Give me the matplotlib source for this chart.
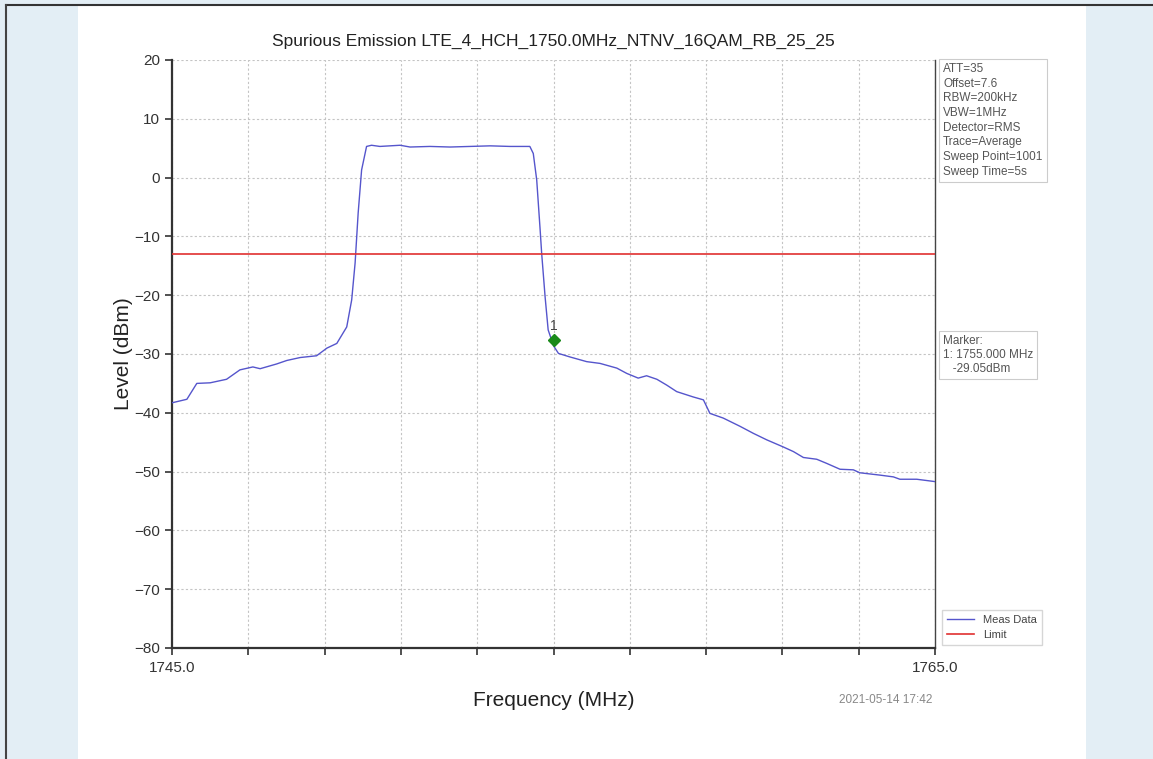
import matplotlib
matplotlib.use("Agg")
import matplotlib.pyplot as plt
from matplotlib.patches import Rectangle

plt.rcParams['font.family'] = ['Liberation Sans', 'DejaVu Sans']

# ---- data ----
freq_mhz = [1745.00, 1745.39, 1745.65, 1746.00, 1746.43, 1746.78, 1747.12, 1747.31,
            1747.74, 1748.01, 1748.36, 1748.79, 1749.06, 1749.32, 1749.58, 1749.71,
            1749.80, 1749.88, 1749.97, 1750.10, 1750.23, 1750.45, 1750.71, 1750.98,
            1751.24, 1751.76, 1752.29, 1752.81, 1753.34, 1753.86, 1754.38, 1754.47,
            1754.56, 1754.65, 1754.69, 1754.78, 1754.86, 1755.00, 1755.13, 1755.43,
            1755.87, 1756.22, 1756.66, 1756.92, 1757.22, 1757.44, 1757.71, 1757.97,
            1758.23, 1758.66, 1758.93, 1759.10, 1759.45, 1759.89, 1760.24, 1760.59,
            1761.02, 1761.29, 1761.55, 1761.90, 1762.16, 1762.51, 1762.86, 1763.03,
            1763.56, 1763.91, 1764.08, 1764.52, 1765.00]
level_dbm = [-38.3, -37.7, -35.0, -34.9, -34.3, -32.7, -32.2, -32.5,
             -31.7, -31.1, -30.6, -30.3, -29.0, -28.2, -25.4, -20.8,
             -14.5, -6.0, 1.3, 5.3, 5.5, 5.3, 5.4, 5.5,
             5.2, 5.3, 5.2, 5.3, 5.4, 5.3, 5.3, 4.1,
             -0.4, -8.9, -12.9, -20.3, -25.9, -28.6, -29.9, -30.5,
             -31.3, -31.6, -32.4, -33.3, -34.1, -33.7, -34.3, -35.3,
             -36.4, -37.3, -37.8, -40.1, -40.9, -42.3, -43.5, -44.6,
             -45.8, -46.6, -47.6, -47.9, -48.6, -49.6, -49.7, -50.2,
             -50.6, -50.9, -51.3, -51.3, -51.7]
limit_dbm = -13.0
marker_freq = 1755.0
marker_level = -27.6
marker_label = "1"
x_ticks = [1745, 1747, 1749, 1751, 1753, 1755, 1757, 1759, 1761, 1763, 1765]
x_tick_labels = ["1745.0", "", "", "", "", "", "", "", "", "", "1765.0"]
y_ticks = [20, 10, 0, -10, -20, -30, -40, -50, -60, -70, -80]
settings_text = ("ATT=35\nOffset=7.6\nRBW=200kHz\nVBW=1MHz\nDetector=RMS\n"
                 "Trace=Average\nSweep Point=1001\nSweep Time=5s")
marker_text = "Marker:\n1: 1755.000 MHz\n   -29.05dBm"
title = "Spurious Emission LTE_4_HCH_1750.0MHz_NTNV_16QAM_RB_25_25"
timestamp = "2021-05-14 17:42"

W, H = 1153, 759
fig = plt.figure(figsize=(W / 100, H / 100), dpi=100, facecolor='#e3eef5')

# background axes: white panel + screenshot frame
bg = fig.add_axes([0, 0, 1, 1], zorder=-10)
bg.set_xlim(0, W)
bg.set_ylim(H, 0)
bg.axis('off')
bg.add_patch(Rectangle((78, 6), 1086 - 78, H - 6, facecolor='white', edgecolor='none'))
bg.plot([6, W], [5, 5], color='#333333', lw=1.5)
bg.plot([6, 6], [5, H], color='#444444', lw=1.5)

ax = fig.add_axes([172 / W, 1 - 648 / H, (935 - 172) / W, (648 - 60) / H])
ax.set_facecolor('white')

ax.plot(freq_mhz, level_dbm, color='#5555cc', lw=1.0, label='Meas Data', zorder=3)
ax.axhline(limit_dbm, color='#e03030', lw=1.2, label='Limit', zorder=3)
ax.plot([marker_freq], [marker_level], marker='D', color='#1a8a1a', ms=6,
        linestyle='none', zorder=4)
ax.annotate(marker_label, (marker_freq, marker_level), xytext=(0, 5),
            textcoords='offset points', ha='center', va='bottom',
            fontsize=10, color='#444444')

ax.set_xlim(1745, 1765)
ax.set_ylim(-80, 20)
ax.set_xticks(x_ticks)
ax.set_xticklabels(x_tick_labels)
ax.set_yticks(y_ticks)
ax.grid(True, color='#c4c4c4', linestyle=(0, (2, 2)), lw=0.8)
ax.tick_params(axis='both', labelsize=11, colors='#333333', length=5, width=1.2,
               direction='out')
ax.tick_params(axis='x', pad=4)
for s in ['left', 'bottom']:
    ax.spines[s].set_color('#333333')
    ax.spines[s].set_linewidth(1.6)
ax.spines['right'].set_color('#444444')
ax.spines['right'].set_linewidth(1.0)
ax.spines['top'].set_visible(False)

ax.set_title(title, fontsize=12.5, color='#222222', pad=10)
ax.set_xlabel("Frequency (MHz)", fontsize=15, color='#222222', labelpad=12)
ax.set_ylabel("Level (dBm)", fontsize=15, color='#222222')
ax.yaxis.set_label_coords((133 - 172) / (935 - 172), 0.5)

box = dict(boxstyle='square,pad=0.35', facecolor='white', edgecolor='#cccccc', lw=0.8)
fig.text(943 / W, 1 - 63 / H, settings_text, fontsize=8.5, color='#555555',
         va='top', ha='left', linespacing=1.3, bbox=box)
fig.text(943 / W, 1 - 335 / H, marker_text, fontsize=8.5, color='#555555',
         va='top', ha='left', linespacing=1.2, bbox=box)

leg = ax.legend(loc='lower left', bbox_to_anchor=(1.005, 0.0), fontsize=8,
                frameon=True, fancybox=False, edgecolor='#cccccc',
                handlelength=2.5, borderaxespad=0.3)
for t in leg.get_texts():
    t.set_color('#444444')

fig.text(932 / W, 1 - 700 / H, timestamp, fontsize=8.5, color='#888888',
         ha='right', va='center')

fig.savefig('out.png', dpi=100, facecolor=fig.get_facecolor())
